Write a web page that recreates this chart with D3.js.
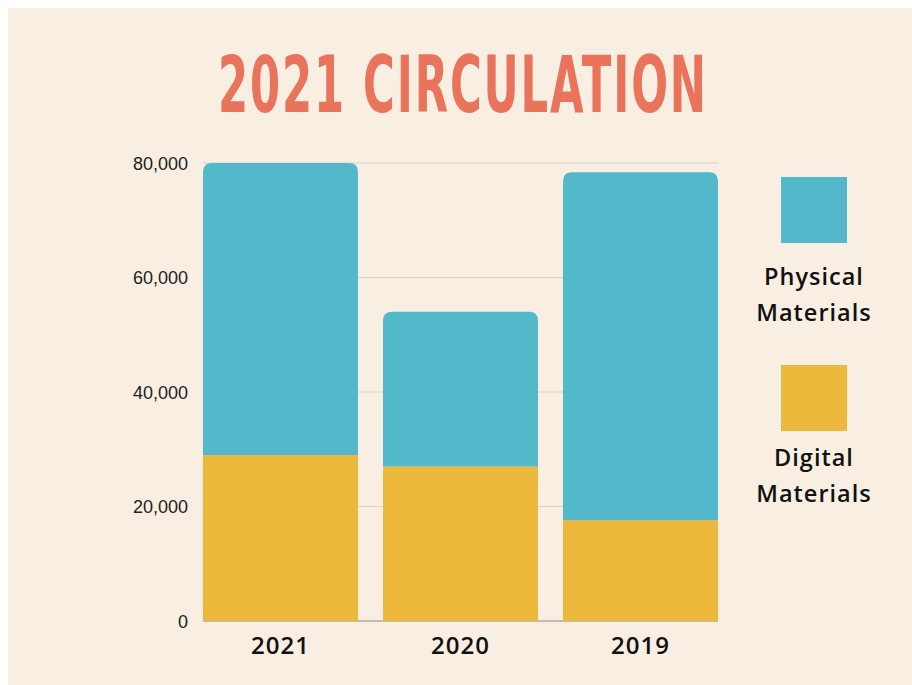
<!DOCTYPE html>
<html><head><meta charset="utf-8">
<script src="https://cdn.jsdelivr.net/npm/d3@7"></script>
<style>html,body{margin:0;padding:0;background:#fff;}</style>
</head><body>
<script>
const years = ["2021", "2020", "2019"];
const digital = [29000, 27000, 17600];
const physical = [51000, 27000, 60800];
const yTicks = [0, 20000, 40000, 60000, 80000];
const seriesNames = ["Physical Materials", "Digital Materials"];
const colors = ["#52B8CA", "#ECB93C"];

const W = 912, H = 685;
const svg = d3.select("body").append("svg").attr("width", W).attr("height", H);
svg.append("rect").attr("x", 8).attr("y", 8).attr("width", W - 8).attr("height", H - 8).attr("fill", "#F8EFE2");

// title, scaled horizontally to span the reference width
const title = svg.append("text").attr("x", 0).attr("y", 0).attr("text-anchor", "middle")
  .attr("font-family", "'DejaVu Sans Condensed', 'Liberation Sans Narrow', sans-serif")
  .attr("font-weight", "bold").attr("font-size", 78).attr("letter-spacing", 3).attr("fill", "#E9735B")
  .text("2021 CIRCULATION");
const tw = title.node().getComputedTextLength();
title.attr("transform", `translate(463,112) scale(${490 / tw},1)`);

const x = d3.scaleBand().domain(years).range([203, 718]).paddingInner(0.139).paddingOuter(0);
const y = d3.scaleLinear().domain([0, 80000]).range([621, 163]);

// gridlines
svg.append("g").selectAll("line").data(yTicks.slice(1)).join("line")
  .attr("x1", 203).attr("x2", 718).attr("y1", d => y(d)).attr("y2", d => y(d))
  .attr("stroke", "#DAD3C8").attr("stroke-width", 1);
svg.append("line").attr("x1", 203).attr("x2", 718).attr("y1", y(0)).attr("y2", y(0))
  .attr("stroke", "#8a8782").attr("stroke-width", 1);

// y axis labels
const yAxis = d3.axisLeft(y).tickValues(yTicks).tickFormat(d3.format(",")).tickSize(0).tickPadding(0);
const gy = svg.append("g").attr("transform", "translate(188,0)").call(yAxis);
gy.select(".domain").remove();
gy.selectAll("text").attr("font-family", "'Liberation Sans', Arial, sans-serif").attr("font-size", 18).attr("fill", "#222").attr("dy", "0.35em");

// stacked bars
const data = years.map((yr, i) => ({ year: yr, digital: digital[i], physical: physical[i] }));
const stack = d3.stack().keys(["digital", "physical"])(data);
const r = 9;
function topRounded(x0, y0, w, h, rr) {
  return `M${x0},${y0 + h}V${y0 + rr}Q${x0},${y0} ${x0 + rr},${y0}H${x0 + w - rr}Q${x0 + w},${y0} ${x0 + w},${y0 + rr}V${y0 + h}Z`;
}
svg.append("g").selectAll("rect").data(stack[0]).join("rect")
  .attr("x", d => x(d.data.year)).attr("width", x.bandwidth())
  .attr("y", d => y(d[1])).attr("height", d => y(d[0]) - y(d[1]))
  .attr("fill", colors[1]);
svg.append("g").selectAll("path").data(stack[1]).join("path")
  .attr("d", d => topRounded(x(d.data.year), y(d[1]), x.bandwidth(), y(d[0]) - y(d[1]), r))
  .attr("fill", colors[0]);

// x axis labels
const xAxis = d3.axisBottom(x).tickSize(0).tickPadding(0);
const gx = svg.append("g").attr("transform", "translate(0,646)").call(xAxis);
gx.select(".domain").remove();
gx.selectAll("text").attr("font-family", "'Open Sans', 'Noto Sans', sans-serif").attr("font-weight", 600)
  .attr("font-size", 24).attr("letter-spacing", 1).attr("fill", "#111").attr("dy", "0.35em");

// legend
const legY = [177, 365];
const legBase = [[285, 321], [466, 502]];
const legText = [["Physical", "Materials"], ["Digital", "Materials"]];
legY.forEach((ly, i) => {
  svg.append("rect").attr("x", 781).attr("y", ly).attr("width", 66).attr("height", 66).attr("fill", colors[i]);
  legText[i].forEach((t, j) => {
    svg.append("text").attr("x", 814).attr("y", legBase[i][j]).attr("text-anchor", "middle")
      .attr("font-family", "'Open Sans', 'Noto Sans', sans-serif").attr("font-weight", 600)
      .attr("font-size", 23.5).attr("letter-spacing", 1).attr("fill", "#111").text(t);
  });
});
</script>
</body></html>
